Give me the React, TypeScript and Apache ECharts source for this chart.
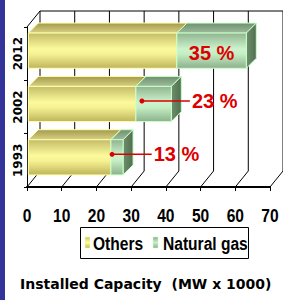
import { useEffect, useRef } from "react";
import * as echarts from "echarts";

// ---- data ----
const categories = ["1993", "2002", "2012"];
const others = [23.8, 31.0, 42.8];
const naturalGas = [3.5, 10.2, 20.0];
const shareLabels = ["13 %", "23 %", "35 %"];
// leader dot value and label-start value (data units); null = label inside bar
const leaderFrom: (number | null)[] = [24.5, 33.1, null];
const labelAt: (number | null)[] = [36.5, 47.5, null];
const xTicks = [0, 10, 20, 30, 40, 50, 60, 70];
const seriesNames = ["Others", "Natural gas"];

// ---- style constants ----
const NARROW_FONT = 'bold 19px "Liberation Sans", Arial, sans-serif';
const NARROW = 0.82; // horizontal squeeze to mimic Arial Narrow
const DX = 13; // frame depth
const DY = -16;
const BDX = 10; // bar depth
const BDY = -10;
const FDX = 1.3; // bar front face offset from the front plane
const FDY = -3;
const RED = "#dd0000";

const lg = (stops: [number, string][], x2 = 0, y2 = 1) =>
  new echarts.graphic.LinearGradient(0, 0, x2, y2, stops.map(([offset, color]) => ({ offset, color })));

const yellow = {
  front: () => lg([[0, "#c4bc68"], [0.45, "#fbfa9c"], [0.6, "#f6f293"], [1, "#bfb45c"]]),
  top: () => lg([[0, "#a39a4c"], [1, "#d8d084"]]),
  side: () => lg([[0, "#a8a050"], [1, "#8a8240"]]),
  stroke: "#ffffa8",
  legend: () => lg([[0, "#c8c070"], [0.5, "#ffff99"], [1, "#c0b860"]]),
};
const green = {
  front: () => lg([[0, "#8fb48f"], [0.45, "#cdf3cd"], [0.6, "#c4eec4"], [1, "#8cb08c"]]),
  top: () => lg([[0, "#6f8f6f"], [1, "#9cbc9c"]]),
  side: () => lg([[0, "#6e8e6e"], [1, "#4f6f4f"]], 1, 0),
  stroke: "#c8ffc8",
  legend: () => lg([[0, "#88b088"], [0.5, "#c8f0c8"], [1, "#88b088"]]),
};

function barSeries(name: string, starts: number[], values: number[], pal: typeof yellow) {
  return {
    type: "custom",
    name,
    z: 3,
    data: categories.map((_, i) => [i, starts[i], starts[i] + values[i]]),
    encode: { x: [1, 2], y: 0 },
    renderItem: (params: any, api: any) => {
      const cat = api.value(0);
      const s = api.coord([api.value(1), cat]);
      const e = api.coord([api.value(2), cat]);
      const band = api.size([0, 1])[1];
      const h = band * 0.66;
      const x0 = s[0] + FDX;
      const x1 = e[0] + FDX;
      const yc = s[1] + FDY;
      const y0 = yc - h / 2;
      const y1 = yc + h / 2;
      const st = { stroke: pal.stroke, lineWidth: 1 };
      return {
        type: "group",
        children: [
          {
            type: "polygon",
            shape: { points: [[x0, y0], [x0 + BDX, y0 + BDY], [x1 + BDX, y0 + BDY], [x1, y0]] },
            style: { fill: pal.top(), ...st },
          },
          {
            type: "polygon",
            shape: { points: [[x1, y0], [x1 + BDX, y0 + BDY], [x1 + BDX, y1 + BDY], [x1, y1]] },
            style: { fill: pal.side(), ...st },
          },
          {
            type: "rect",
            shape: { x: x0, y: y0, width: x1 - x0, height: h },
            style: { fill: pal.front(), ...st },
          },
        ],
      };
    },
  };
}

export default function App() {
  const ref = useRef<HTMLDivElement>(null);
  useEffect(() => {
    if (!ref.current) return;
    const chart = echarts.init(ref.current, undefined, { renderer: "svg" });
    const totals = others.map((v, i) => v + naturalGas[i]);
    chart.setOption({
      animation: false,
      backgroundColor: "#ffffff",
      grid: { left: 27, right: 13, top: 27, bottom: 113, containLabel: false },
      title: {
        text: "Installed Capacity  (MW x 1000)",
        left: 20,
        top: 277,
        padding: 0,
        textStyle: { fontFamily: "DejaVu Sans", fontWeight: "bold", fontSize: 14, color: "#000" },
      },
      graphic: [
        { type: "rect", left: 0, top: 0, shape: { x: 0, y: 0, width: 5, height: 300 }, style: { fill: "#333399" }, z: 10 },
        {
          type: "group",
          left: 80,
          top: 227,
          children: [
            { type: "rect", shape: { x: 0.5, y: 0.5, width: 168, height: 31 }, style: { fill: "#fff", stroke: "#000", lineWidth: 1 } },
            { type: "rect", shape: { x: 5, y: 10, width: 5, height: 11 }, style: { fill: yellow.legend(), stroke: "#ffffa8", lineWidth: 0.5 } },
            {
              type: "text",
              x: 13,
              y: 16.5,
              scaleX: NARROW,
              style: { text: seriesNames[0], font: NARROW_FONT, fill: "#000", verticalAlign: "middle", align: "left" },
            },
            { type: "rect", shape: { x: 73, y: 10, width: 5, height: 11 }, style: { fill: green.legend(), stroke: "#c8ffc8", lineWidth: 0.5 } },
            {
              type: "text",
              x: 83,
              y: 16.5,
              scaleX: NARROW,
              style: { text: seriesNames[1], font: NARROW_FONT, fill: "#000", verticalAlign: "middle", align: "left" },
            },
          ],
        },
      ],
      xAxis: {
        type: "value",
        min: 0,
        max: 70,
        interval: 10,
        axisLine: { show: true, lineStyle: { color: "#000", width: 2 } },
        axisTick: { show: true, length: 4, lineStyle: { color: "#000", width: 1 } },
        splitLine: { show: false },
        axisLabel: { show: false },
      },
      yAxis: {
        type: "category",
        data: categories,
        axisLine: { show: true, lineStyle: { color: "#000", width: 1 } },
        axisTick: { show: true, length: 3, lineStyle: { color: "#000" } },
        axisLabel: { rotate: 90, margin: 3, fontFamily: "DejaVu Sans", fontWeight: "bold", fontSize: 12, color: "#000" },
      },
      series: [
        {
          type: "custom",
          name: "frame",
          z: 1,
          silent: true,
          data: xTicks.map((t) => [t]),
          encode: { x: 0 },
          renderItem: (params: any, api: any) => {
            const cs = params.coordSys;
            const v = api.value(0);
            const x = api.coord([v, 0])[0];
            const top = cs.y;
            const bottom = cs.y + cs.height;
            const ls = { stroke: "#000", lineWidth: 1 };
            const children: any[] = [
              { type: "line", shape: { x1: x, y1: bottom, x2: x + DX, y2: bottom + DY }, style: ls },
              { type: "line", shape: { x1: x + DX, y1: top + DY, x2: x + DX, y2: bottom + DY }, style: ls },
              {
                type: "text",
                x,
                y: bottom + 28,
                scaleX: NARROW,
                style: { text: String(v), font: NARROW_FONT, fill: "#000", align: "center", verticalAlign: "middle" },
              },
            ];
            if (v === xTicks[0]) {
              children.push(
                { type: "line", shape: { x1: x + DX, y1: top + DY, x2: cs.x + cs.width + DX, y2: top + DY }, style: ls },
                { type: "line", shape: { x1: x, y1: top, x2: x + DX, y2: top + DY }, style: ls }
              );
            }
            return { type: "group", children };
          },
        },
        barSeries(seriesNames[0], others.map(() => 0), others, yellow),
        barSeries(seriesNames[1], others, naturalGas, green),
        {
          type: "custom",
          name: "labels",
          z: 5,
          silent: true,
          data: categories.map((_, i) => [i, totals[i]]),
          encode: { x: 1, y: 0 },
          renderItem: (params: any, api: any) => {
            const i = params.dataIndex;
            const cat = api.value(0);
            const font = 'bold 20px "Liberation Sans", Arial, sans-serif';
            const from = leaderFrom[i];
            const at = labelAt[i];
            if (from == null || at == null) {
              const s = api.coord([others[i], cat]);
              const e = api.coord([totals[i], cat]);
              return {
                type: "text",
                style: {
                  text: shareLabels[i],
                  x: (s[0] + e[0]) / 2 + FDX,
                  y: s[1] + FDY + 2,
                  align: "center",
                  verticalAlign: "middle",
                  font,
                  fill: RED,
                },
              };
            }
            const p = api.coord([from, cat]);
            const t = api.coord([at, cat]);
            const y = p[1] + FDY - 3;
            return {
              type: "group",
              children: [
                { type: "line", shape: { x1: p[0], y1: y, x2: t[0] - 2, y2: y }, style: { stroke: RED, lineWidth: 1.5 } },
                { type: "circle", shape: { cx: p[0], cy: y, r: 2.5 }, style: { fill: RED } },
                {
                  type: "text",
                  style: { text: shareLabels[i], x: t[0], y: y, align: "left", verticalAlign: "middle", font, fill: RED },
                },
              ],
            };
          },
        },
      ],
    });
    return () => chart.dispose();
  }, []);
  return <div ref={ref} style={{ position: "fixed", left: 0, top: 0, width: 283, height: 300 }} />;
}
